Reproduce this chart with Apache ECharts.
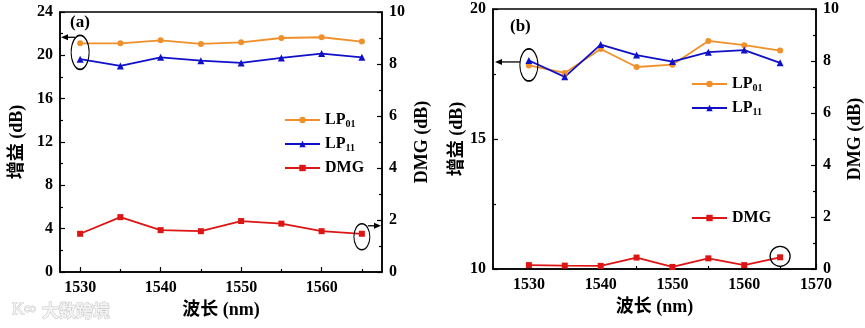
<!DOCTYPE html>
<html><head><meta charset="utf-8">
<script src="https://cdn.jsdelivr.net/npm/echarts@6/dist/echarts.min.js"></script>
<style>html,body{margin:0;padding:0;background:#fff}#c{width:865px;height:328px}</style>
</head><body><div id="c"></div>
<script>
// ---- data ----
var wavelengths = [1530, 1535, 1540, 1545, 1550, 1555, 1560, 1565];
// panel (a)
var a_LP01 = [21.11, 21.11, 21.39, 21.05, 21.20, 21.60, 21.67, 21.27];
var a_LP11 = [19.64, 19.02, 19.82, 19.51, 19.30, 19.76, 20.16, 19.82];
var a_DMG  = [1.47, 2.11, 1.61, 1.57, 1.96, 1.86, 1.57, 1.47];
// panel (b)
var b_LP01 = [17.83, 17.54, 18.46, 17.77, 17.86, 18.77, 18.61, 18.40];
var b_LP11 = [18.02, 17.39, 18.63, 18.23, 17.98, 18.34, 18.42, 17.93];
var b_DMG  = [0.15, 0.13, 0.12, 0.44, 0.08, 0.41, 0.15, 0.45];
// tick labels
var a_xMajor = [1530, 1540, 1550, 1560];
var a_xMinor = [1535, 1545, 1555, 1565];
var b_xMajor = [1530, 1540, 1550, 1560, 1570];
var b_xMinor = [1535, 1545, 1555, 1565];
var names = ['LP01', 'LP11', 'DMG'];
var gainTitle = '增益 (dB)', dmgTitle = 'DMG (dB)', xTitle = '波长 (nm)';

var FONT = "'Liberation Serif','Noto Sans CJK SC',serif";
var C_OR = '#F0902A', C_BL = '#1010C8', C_RD = '#DD1515';

function pairs(y) { return wavelengths.map(function (x, i) { return [x, y[i]]; }); }

function xAxes(grid, min, max, major, minor, nameGap) {
  return [{
    type: 'value', gridIndex: grid, min: min, max: max,
    name: xTitle, nameLocation: 'middle', nameGap: nameGap,
    nameTextStyle: { fontFamily: FONT, fontWeight: 'bold', fontSize: 18, color: '#000' },
    axisLine: { show: true, lineStyle: { color: '#000', width: 1.5 } },
    axisTick: { show: true, inside: true, length: 5, customValues: major, lineStyle: { color: '#000', width: 1.2 } },
    axisLabel: { customValues: major, margin: 8, fontFamily: FONT, fontWeight: 'bold', fontSize: 16, color: '#000',
      formatter: function (v) { return String(v); } },
    splitLine: { show: false }
  }, {
    type: 'value', gridIndex: grid, min: min, max: max, position: 'bottom',
    axisLine: { show: false },
    axisTick: { show: true, inside: true, length: 3, customValues: minor, lineStyle: { color: '#000', width: 1.2 } },
    axisLabel: { show: false },
    splitLine: { show: false }
  }];
}
function yAxis(grid, pos, min, max, interval, name, gap) {
  return {
    type: 'value', gridIndex: grid, position: pos, min: min, max: max, interval: interval,
    name: name, nameLocation: 'middle', nameGap: gap, nameRotate: 90,
    nameTextStyle: { fontFamily: FONT, fontWeight: 'bold', fontSize: 18, color: '#000' },
    axisLine: { show: true, lineStyle: { color: '#000', width: 1.5 } },
    axisTick: { show: true, inside: true, length: 5, lineStyle: { color: '#000', width: 1.2 } },
    minorTick: { show: true, splitNumber: 2, length: 3, lineStyle: { color: '#000', width: 1.2 } },
    axisLabel: { margin: 7, fontFamily: FONT, fontWeight: 'bold', fontSize: 16, color: '#000' },
    splitLine: { show: false }, minorSplitLine: { show: false }
  };
}
function line(name, data, color, symbol, size, xi, yi) {
  return {
    type: 'line', name: name, data: pairs(data), xAxisIndex: xi, yAxisIndex: yi,
    symbol: symbol, symbolSize: size, color: color,
    lineStyle: { color: color, width: 1.8 }, itemStyle: { color: color },
    animation: false
  };
}
var legendText = {
  fontFamily: FONT, fontWeight: 'bold', fontSize: 16, color: '#000',
  rich: { sub: { fontFamily: FONT, fontWeight: 'bold', fontSize: 10, color: '#000', padding: [8, 0, 0, 0] } }
};
function legendFmt(n) { return n.indexOf('LP') === 0 ? 'LP{sub|' + n.slice(2) + '}' : n; }
function legend(data, left, top) {
  return { data: data, left: left, top: top, orient: 'vertical', itemWidth: 35, itemHeight: 8,
    itemGap: 7, textStyle: legendText, formatter: legendFmt, selectedMode: false };
}

var chart = echarts.init(document.getElementById('c'), null, { renderer: 'canvas' });
var option = {
  backgroundColor: '#fff',
  animation: false,
  grid: [
    { left: 60, top: 12, width: 322, height: 260, show: true, borderColor: '#000', borderWidth: 1.5, backgroundColor: 'transparent' },
    { left: 493, top: 9, width: 323, height: 260, show: true, borderColor: '#000', borderWidth: 1.5, backgroundColor: 'transparent' }
  ],
  xAxis: xAxes(0, 1527.5, 1567.5, a_xMajor, a_xMinor, 22).concat(xAxes(1, 1525, 1570, b_xMajor, b_xMinor, 26)),
  yAxis: [
    yAxis(0, 'left', 0, 24, 4, gainTitle, 34),
    yAxis(0, 'right', 0, 10, 2, dmgTitle, 31),
    yAxis(1, 'left', 10, 20, 5, gainTitle, 27),
    yAxis(1, 'right', 0, 10, 2, dmgTitle, 30)
  ],
  legend: [
    legend(names, 279, 107),
    legend(['LP01', 'LP11'], 686, 71),
    legend(['DMG'], 686, 205)
  ],
  series: [
    line('LP01', a_LP01, C_OR, 'circle', 6, 0, 0),
    line('LP11', a_LP11, C_BL, 'triangle', 7, 0, 0),
    line('DMG', a_DMG, C_RD, 'rect', 6, 0, 1),
    line('LP01', b_LP01, C_OR, 'circle', 6, 2, 2),
    line('LP11', b_LP11, C_BL, 'triangle', 7, 2, 2),
    line('DMG', b_DMG, C_RD, 'rect', 6, 2, 3)
  ]
};
chart.setOption(option);

// ---- annotations placed from data coordinates ----
function px(xi, yi, x, y) { return chart.convertToPixel({ xAxisIndex: xi, yAxisIndex: yi }, [x, y]); }
function ellipse(cx, cy, rx, ry) {
  return { type: 'circle', x: cx, y: cy, scaleX: rx, scaleY: ry, shape: { cx: 0, cy: 0, r: 1 },
    style: { fill: 'none', stroke: '#000', lineWidth: 1.3, strokeNoScale: true }, z: 100 };
}
function arrow(x1, y, x2) {
  var d = x2 > x1 ? 1 : -1;
  return [
    { type: 'line', shape: { x1: x1, y1: y, x2: x2 - d * 5, y2: y }, style: { stroke: '#000', lineWidth: 1.3 }, z: 100 },
    { type: 'polygon', shape: { points: [[x2, y], [x2 - d * 7, y - 3], [x2 - d * 7, y + 3]] }, style: { fill: '#000' }, z: 100 }
  ];
}
var g = [];
// (a) ellipse around first gain points, arrow to left axis
var pa1 = px(0, 0, wavelengths[0], (a_LP01[0] + a_LP11[0]) / 2);
var axA = px(0, 0, 1527.5, 0)[0];
g.push(ellipse(pa1[0], pa1[1] + 1, 9, 17));
g = g.concat(arrow(pa1[0] - 5, pa1[1] - 14, axA + 1));
// (a) ellipse around last DMG point, arrow to right axis
var pa2 = px(0, 1, wavelengths[7], a_DMG[7]);
var axA2 = px(0, 0, 1567.5, 0)[0];
g.push(ellipse(pa2[0], pa2[1] + 3, 8, 13));
g = g.concat(arrow(pa2[0] + 6, pa2[1] - 8, axA2 - 1));
// (b) ellipse around first gain points, arrow to left axis
var pb1 = px(2, 2, wavelengths[0], (b_LP01[0] + b_LP11[0]) / 2);
var axB = px(2, 2, 1525, 10)[0];
g.push(ellipse(pb1[0], pb1[1] + 2, 9, 16));
g = g.concat(arrow(pb1[0] - 9, pb1[1] - 1, axB + 2));
// (b) circle around last DMG point
var pb2 = px(2, 3, wavelengths[7], b_DMG[7]);
g.push(ellipse(pb2[0], pb2[1] - 1, 10, 10));
// panel labels and watermark
g.push({ type: 'text', x: 70, y: 14, style: { text: '(a)', fontFamily: FONT, fontWeight: 'bold', fontSize: 17, fill: '#000' }, z: 100 });
g.push({ type: 'text', x: 510, y: 18, style: { text: '(b)', fontFamily: FONT, fontWeight: 'bold', fontSize: 17, fill: '#000' }, z: 100 });
g.push({ type: 'text', x: 12, y: 301, style: { text: 'K∞', fontFamily: FONT, fontSize: 17, fill: '#f2f2f2', stroke: '#c8c8c8', lineWidth: 1 }, z: 100 });
g.push({ type: 'text', x: 42, y: 302, style: { text: '大数跨境', fontFamily: "'Noto Sans CJK SC',sans-serif", fontWeight: 'bold', fontSize: 17, fill: '#f2f2f2', stroke: '#c8c8c8', lineWidth: 1 }, z: 100 });
chart.setOption({ graphic: g });
</script></body></html>
